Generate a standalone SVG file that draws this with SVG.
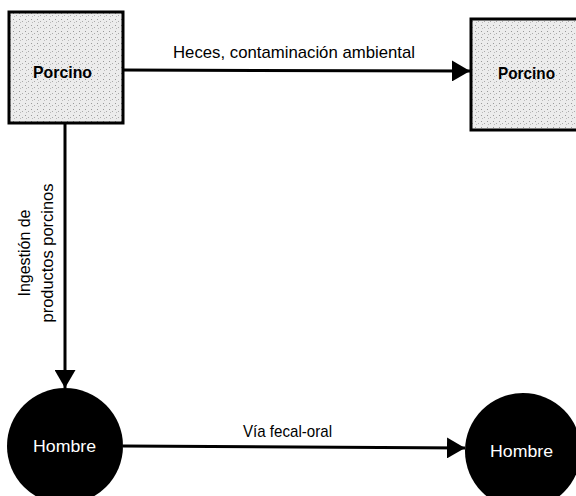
<svg xmlns="http://www.w3.org/2000/svg" width="576" height="496" viewBox="0 0 576 496">
<style>
.box{stroke:#000;stroke-width:3;fill:url(#stip)}
.circ{fill:#000}
.lbl{font-family:"Liberation Sans",Arial,sans-serif;font-size:17px;fill:#000}
.bold{font-weight:bold}
.wt{fill:#fff}
.edge{stroke:#000;stroke-width:3;fill:none}
</style>
<defs>
<pattern id="stip" width="6" height="6" patternUnits="userSpaceOnUse">
<rect width="6" height="6" fill="#ececec"/>
<rect x="1" y="1" width="1" height="1" fill="#999"/>
<rect x="4" y="3" width="1" height="1" fill="#aaa"/>
<rect x="2" y="4" width="1" height="1" fill="#bbb"/>
</pattern>
<marker id="arr" markerWidth="6" markerHeight="7" refX="6" refY="3.5" orient="auto" markerUnits="strokeWidth">
<path d="M0,0 L6,3.5 L0,7 Z" fill="#000"/>
</marker>
</defs>
<g id="edges">
<line class="edge" x1="123" y1="70" x2="470" y2="71" marker-end="url(#arr)"/>
<line class="edge" x1="65" y1="123" x2="65" y2="388" marker-end="url(#arr)"/>
<line class="edge" x1="123" y1="446" x2="465" y2="448" marker-end="url(#arr)"/>
<text class="lbl" x="173" y="58" textLength="242" lengthAdjust="spacingAndGlyphs">Heces, contaminación ambiental</text>
<text class="lbl" x="243" y="437" textLength="89" lengthAdjust="spacingAndGlyphs">Vía fecal-oral</text>
<text class="lbl" transform="translate(30,253) rotate(-90)" x="-43.5" textLength="87" lengthAdjust="spacingAndGlyphs">Ingestión de</text>
<text class="lbl" transform="translate(53,253) rotate(-90)" x="-69.5" textLength="139" lengthAdjust="spacingAndGlyphs">productos porcinos</text>
</g>
<g id="porcino1">
<rect class="box" x="9" y="12" width="114" height="111"/>
<text class="lbl bold" x="33" y="78" textLength="59" lengthAdjust="spacingAndGlyphs">Porcino</text>
</g>
<g id="porcino2">
<rect class="box" x="471" y="19" width="112" height="111"/>
<text class="lbl bold" x="498" y="79" textLength="57" lengthAdjust="spacingAndGlyphs">Porcino</text>
</g>
<g id="hombre1">
<circle class="circ" cx="65" cy="446" r="58"/>
<text class="lbl wt" x="33" y="452" textLength="63" lengthAdjust="spacingAndGlyphs">Hombre</text>
</g>
<g id="hombre2">
<circle class="circ" cx="523" cy="451" r="58"/>
<text class="lbl wt" x="490" y="457" textLength="63" lengthAdjust="spacingAndGlyphs">Hombre</text>
</g>
</svg>
